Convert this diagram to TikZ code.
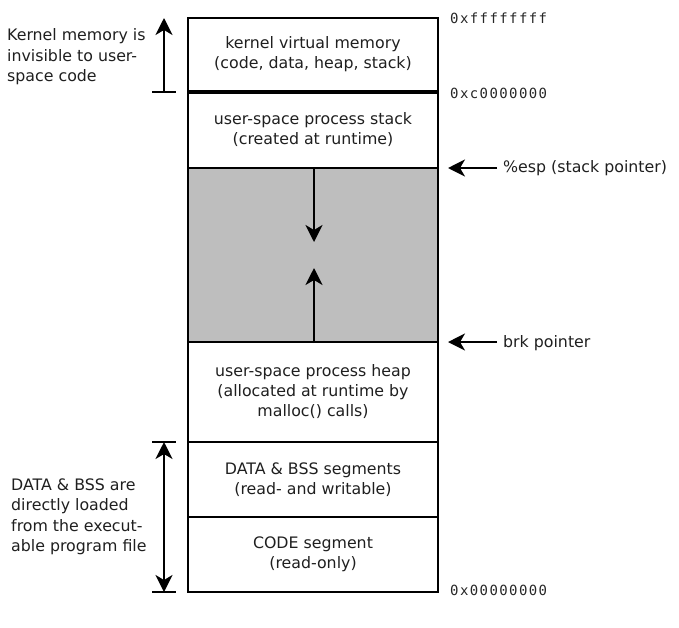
\documentclass[tikz,border=0pt]{standalone}
\usepackage{fontspec}
\setmainfont{DejaVu Sans}
\setsansfont{DejaVu Sans}
\newfontfamily\addrfont[LetterSpace=10]{DejaVu Sans Mono}
\usetikzlibrary{arrows.meta}
\definecolor{gapgray}{RGB}{190,190,190}
\tikzset{
  seg/.style={draw, line width=2pt, minimum width=250pt, inner sep=0pt, align=center,
    font=\fontsize{15.8}{20}\selectfont, text=black!88},
  note/.style={align=left, inner sep=0pt, font=\fontsize{15.8}{20.5}\selectfont, text=black!88},
  addr/.style={anchor=west, inner sep=0pt, font=\addrfont\fontsize{14}{16}\selectfont, text=black!85},
  arr/.style={line width=2pt, -{Stealth[length=17pt,width=17pt,inset=5pt]}},
  darr/.style={line width=2pt, {Stealth[length=17pt,width=17pt,inset=5pt]}-{Stealth[length=17pt,width=17pt,inset=5pt]}},
  tick/.style={line width=2pt}
}
\begin{document}
\begin{tikzpicture}[x=1pt,y=-1pt]
\useasboundingbox (0,0) rectangle (679,627);
% segments
\node[seg, minimum height=174pt, fill=gapgray] (gap) at (313,255) {};
\node[seg, minimum height=73pt] (kernel) at (313,54.5) {kernel virtual memory\\(code, data, heap, stack)};
\node[seg, minimum height=77pt] (stack) at (313,129.5) {user-space process stack\\(created at runtime)};
\node[seg, minimum height=100pt] (heap) at (313,392) {user-space process heap\\(allocated at runtime by\\malloc() calls)};
\node[seg, minimum height=75pt] (data) at (313,479.5) {DATA \& BSS segments\\(read- and writable)};
\node[seg, minimum height=75pt] (code) at (313,554.5) {CODE segment\\(read-only)};
\draw[line width=4.5pt] (kernel.south west) -- (kernel.south east);
% growth arrows
\coordinate (dtip) at (314,242);
\coordinate (utip) at (314,268);
\draw[arr] (gap.north -| dtip) -- (dtip);
\draw[arr] (gap.south -| utip) -- (utip);
% addresses
\node[addr] (aff) at (450,18.5) {0xffffffff};
\node[addr] (ac0) at (450,93.5) {0xc0000000};
\node[addr] (a00) at (450,590) {0x00000000};
% pointers
\node[note, anchor=west] (esp) at (503,168) {\%esp (stack pointer)};
\node[note, anchor=west] (brk) at (503,343) {brk pointer};
\coordinate (esptip) at (448,168);
\coordinate (brktip) at (448,342);
\draw[arr] (esp.west) ++(-6,0) -- (esptip);
\draw[arr] (brk.west) ++(-6,-1) -- (brktip);
% kernel bracket
\coordinate (kb) at (164,92);
\coordinate (kt) at (164,18);
\draw[tick] (152,92) -- (176,92);
\draw[arr] (kb) -- (kt);
\node[note, anchor=west] (knote) at (7,57) {Kernel memory is\\invisible to user-\\space code};
% data bracket
\coordinate (db) at (164,592);
\coordinate (dt) at (164,442);
\draw[tick] (152,442) -- (176,442);
\draw[tick] (152,592) -- (176,592);
\draw[darr] (db) -- (dt);
\node[note, anchor=west] (dnote) at (11,517) {DATA \& BSS are\\directly loaded\\from the execut-\\able program file};
\end{tikzpicture}
\end{document}
